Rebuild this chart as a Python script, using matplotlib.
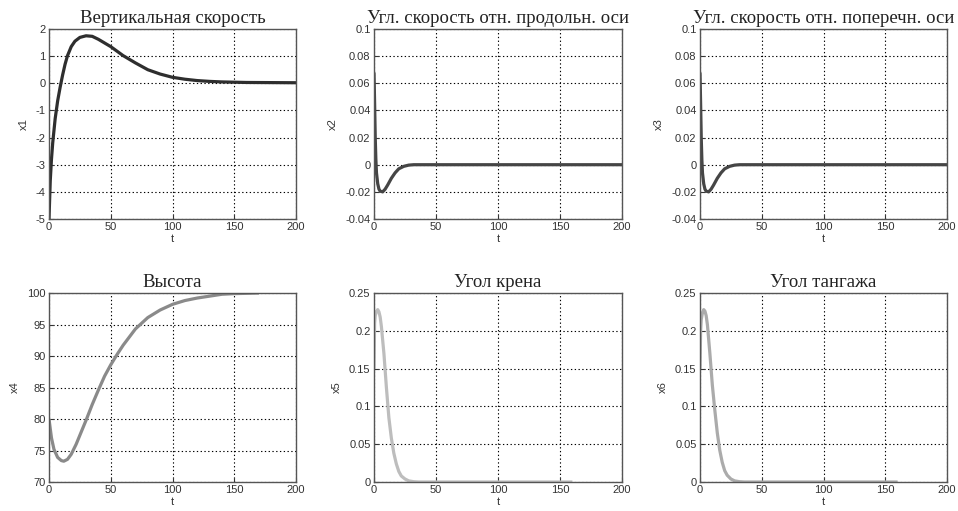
import numpy as np
import matplotlib
matplotlib.use("Agg")
import matplotlib.pyplot as plt

# values, (t, value) pairs per state
t1 = [0, 1, 2, 3, 5, 7, 9, 11, 13, 15, 18, 21, 25, 30, 35, 40, 50, 60, 70, 80, 90, 100, 110, 120, 130, 140, 160, 200]
x1 = [-5.0, -3.6, -2.8, -2.2, -1.3, -0.65, -0.15, 0.3, 0.7, 1.02, 1.35, 1.55, 1.69, 1.75, 1.73, 1.62, 1.35, 1.02, 0.75, 0.5, 0.34, 0.22, 0.15, 0.1, 0.07, 0.05, 0.03, 0.02]

t2 = [0, 0.5, 1, 1.5, 2, 3, 4, 5, 7, 9, 11, 14, 17, 20, 24, 28, 32, 200]
x2 = [0.068, 0.045, 0.02, 0.004, -0.006, -0.014, -0.018, -0.0195, -0.02, -0.018, -0.015, -0.01, -0.006, -0.003, -0.0012, -0.0003, 0.0, 0.0]

t3 = [0, 0.5, 1, 1.5, 2, 3, 4, 5, 7, 9, 11, 14, 17, 20, 24, 28, 32, 200]
x3 = [0.068, 0.045, 0.02, 0.004, -0.006, -0.014, -0.018, -0.0195, -0.02, -0.018, -0.015, -0.01, -0.006, -0.003, -0.0012, -0.0003, 0.0, 0.0]

t4 = [0, 2, 4, 7, 10, 12, 15, 18, 22, 26, 30, 35, 40, 45, 50, 55, 60, 70, 80, 90, 100, 110, 120, 130, 140, 150, 170]
x4 = [80.0, 77.0, 75.2, 73.9, 73.4, 73.3, 73.6, 74.4, 76.0, 77.9, 79.8, 82.3, 84.6, 86.8, 88.6, 90.2, 91.7, 94.3, 96.1, 97.3, 98.2, 98.8, 99.2, 99.5, 99.8, 99.9, 100.0]

t5 = [0, 0.5, 1, 2, 3, 4, 5, 6, 8, 10, 12, 14, 16, 18, 20, 22, 25, 28, 32, 36, 160]
x5 = [0.15, 0.21, 0.22, 0.226, 0.228, 0.225, 0.218, 0.205, 0.17, 0.125, 0.085, 0.058, 0.038, 0.024, 0.014, 0.008, 0.004, 0.0015, 0.0004, 0.0, 0.0]

t6 = [0, 0.5, 1, 2, 3, 4, 5, 6, 8, 10, 12, 14, 16, 18, 20, 22, 25, 28, 32, 36, 160]
x6 = [0.15, 0.2, 0.215, 0.224, 0.228, 0.226, 0.22, 0.208, 0.17, 0.128, 0.095, 0.065, 0.042, 0.026, 0.015, 0.009, 0.004, 0.0015, 0.0004, 0.0, 0.0]

titles = ["Вертикальная скорость", "Угл. скорость отн. продольн. оси",
          "Угл. скорость отн. поперечн. оси", "Высота", "Угол крена", "Угол тангажа"]
ylabels = ["x1", "x2", "x3", "x4", "x5", "x6"]
ylims = [(-5, 2), (-0.04, 0.1), (-0.04, 0.1), (70, 100), (0, 0.25), (0, 0.25)]
yticks = [np.arange(-5, 2.1, 1), np.arange(-0.04, 0.101, 0.02), np.arange(-0.04, 0.101, 0.02),
          np.arange(70, 101, 5), np.arange(0, 0.251, 0.05), np.arange(0, 0.251, 0.05)]
ytick_labels = [["-5", "-4", "-3", "-2", "-1", "0", "1", "2"],
                ["-0.04", "-0.02", "0", "0.02", "0.04", "0.06", "0.08", "0.1"],
                ["-0.04", "-0.02", "0", "0.02", "0.04", "0.06", "0.08", "0.1"],
                ["70", "75", "80", "85", "90", "95", "100"],
                ["0", "0.05", "0.1", "0.15", "0.2", "0.25"],
                ["0", "0.05", "0.1", "0.15", "0.2", "0.25"]]
series = [(t1, x1), (t2, x2), (t3, x3), (t4, x4), (t5, x5), (t6, x6)]
colors = ["#2e2e2e", "#454545", "#454545", "#8a8a8a", "#bdbdbd", "#ababab"]

W, H = 958, 511
# axes boxes in pixels: left, right, top, bottom
boxes = [(49, 296, 29, 219), (374, 622, 29, 219), (700, 947, 29, 219),
         (49, 296, 293, 482), (374, 622, 293, 482), (700, 947, 293, 482)]

fig = plt.figure(figsize=(W / 100, H / 100), dpi=100)
for i in range(6):
    l, r, t, b = boxes[i]
    ax = fig.add_axes([l / W, 1 - b / H, (r - l) / W, (b - t) / H])
    ax.plot(series[i][0], series[i][1], color=colors[i], lw=2.3, solid_capstyle="butt")
    ax.set_xlim(0, 200)
    ax.set_ylim(*ylims[i])
    ax.set_xticks([0, 50, 100, 150, 200])
    ax.set_yticks(yticks[i])
    ax.set_yticklabels(ytick_labels[i])
    ax.grid(True, color="black", linestyle=(0, (1.2, 2.2)), linewidth=0.8)
    ax.tick_params(labelsize=8, length=3, direction="in", colors="#333333", pad=2.5)
    for sp in ax.spines.values():
        sp.set_color("#555555")
        sp.set_linewidth(1.0)
    for lab in ax.get_xticklabels() + ax.get_yticklabels():
        lab.set_family("Liberation Sans")
    ax.set_xlabel("t", fontsize=8, family="Liberation Sans", labelpad=1, color="#333333")
    ax.set_ylabel(ylabels[i], fontsize=8, family="Liberation Sans", labelpad=5, color="#333333")
    ax.set_title(titles[i], fontsize=13.5, family="Liberation Serif", pad=4, color="#222222")

fig.savefig("out.png", dpi=100)
